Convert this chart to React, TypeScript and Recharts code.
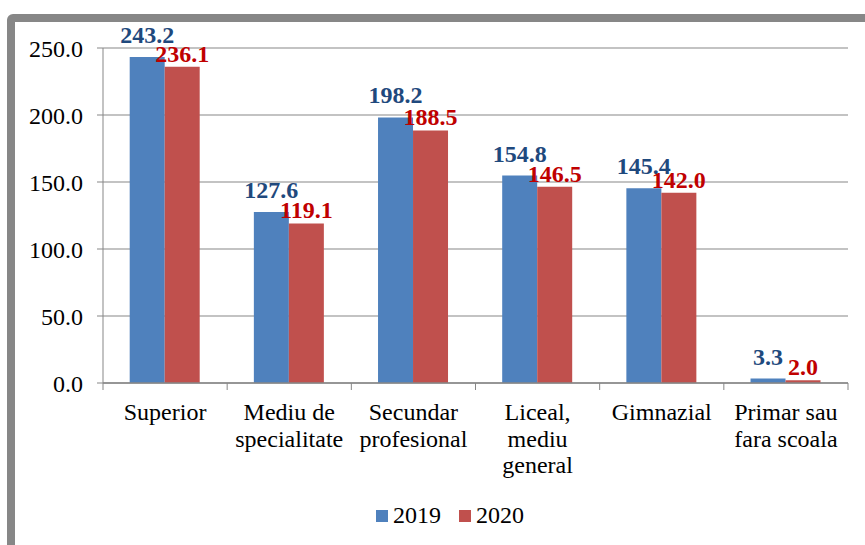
import { BarChart, Bar, XAxis, YAxis, CartesianGrid, LabelList, Legend } from 'recharts';

const categories = [
  'Superior',
  'Mediu de\nspecialitate',
  'Secundar\nprofesional',
  'Liceal,\nmediu\ngeneral',
  'Gimnazial',
  'Primar sau\nfara scoala',
];
const values2019 = [243.2, 127.6, 198.2, 154.8, 145.4, 3.3];
const values2020 = [236.1, 119.1, 188.5, 146.5, 142.0, 2.0];
const yTicks = [0, 50, 100, 150, 200, 250];

const data = categories.map((name, i) => ({ name, y2019: values2019[i], y2020: values2020[i] }));

const FONT = 'Liberation Serif, Times New Roman, DejaVu Serif, serif';
const GRID = '#878787';
const BLUE = '#4F81BD';
const RED = '#C0504D';

// category label on several lines, plus the tick marks at the category edges
function CategoryTick({ x, y, payload, width, visibleTicksCount, index }: any) {
  const lines = String(payload.value).split('\n');
  const band = width / visibleTicksCount;
  const axisY = y - 8;
  return (
    <g>
      <line x1={x - band / 2} x2={x - band / 2} y1={axisY} y2={axisY + 7} stroke={GRID} />
      {index === visibleTicksCount - 1 && (
        <line x1={x + band / 2} x2={x + band / 2} y1={axisY} y2={axisY + 7} stroke={GRID} />
      )}
      <text x={x} y={y} textAnchor="middle" fontFamily={FONT} fontSize={24} fill="#000">
        {lines.map((line, i) => (
          <tspan key={i} x={x} dy={i === 0 ? 29 : 26.5}>
            {line}
          </tspan>
        ))}
      </text>
    </g>
  );
}

function LegendBox() {
  const items = [
    { label: '2019', color: BLUE },
    { label: '2020', color: RED },
  ];
  return (
    <div style={{ display: 'flex', paddingLeft: 376, fontFamily: FONT, fontSize: 24, color: '#000' }}>
      {items.map((it) => (
        <div key={it.label} style={{ display: 'flex', alignItems: 'center', marginRight: 18 }}>
          <span style={{ width: 12, height: 12, background: it.color, marginRight: 5, display: 'inline-block' }} />
          <span>{it.label}</span>
        </div>
      ))}
    </div>
  );
}

export default function App() {
  return (
    <div style={{ position: 'fixed', left: 0, top: 0, width: 865, height: 545, background: '#fff', overflow: 'hidden' }}>
      <div
        style={{
          position: 'absolute',
          left: 7,
          top: 14,
          width: 900,
          height: 600,
          border: `8px solid ${GRID}`,
          borderRadius: 6,
          boxSizing: 'border-box',
        }}
      />
      <div style={{ position: 'absolute', left: 0, top: 0 }}>
        <BarChart
          width={865}
          height={545}
          data={data}
          margin={{ top: 48, right: 17, bottom: 0, left: 0 }}
          barCategoryGap="21.5%"
          barGap={0}
        >
          <CartesianGrid vertical={false} stroke={GRID} />
          <XAxis
            dataKey="name"
            interval={0}
            tick={<CategoryTick />}
            tickLine={false}
            tickSize={6}
            tickMargin={2}
            axisLine={{ stroke: GRID, strokeWidth: 1.5 }}
            height={162}
          />
          <YAxis
            domain={[0, 250]}
            ticks={yTicks}
            tickFormatter={(v: number) => v.toFixed(1)}
            width={103}
            tickSize={6}
            tickMargin={14}
            axisLine={{ stroke: GRID }}
            tickLine={{ stroke: GRID }}
            tick={{ fontFamily: FONT, fontSize: 24, fill: '#000' }}
          />
          <Legend
            layout="horizontal"
            verticalAlign="middle"
            align="center"
            wrapperStyle={{ top: 502, left: 0, width: 865 }}
            content={() => <LegendBox />}
          />
          <Bar dataKey="y2019" name="2019" fill={BLUE} isAnimationActive={false}>
            <LabelList
              dataKey="y2019"
              position="top"
              offset={14}
              formatter={(v: any) => Number(v).toFixed(1)}
              fill="#1F497D"
              fontFamily={FONT}
              fontSize={24}
              fontWeight="bold"
            />
          </Bar>
          <Bar dataKey="y2020" name="2020" fill={RED} isAnimationActive={false}>
            <LabelList
              dataKey="y2020"
              position="top"
              offset={5}
              formatter={(v: any) => Number(v).toFixed(1)}
              fill="#C00000"
              fontFamily={FONT}
              fontSize={24}
              fontWeight="bold"
            />
          </Bar>
        </BarChart>
      </div>
    </div>
  );
}
